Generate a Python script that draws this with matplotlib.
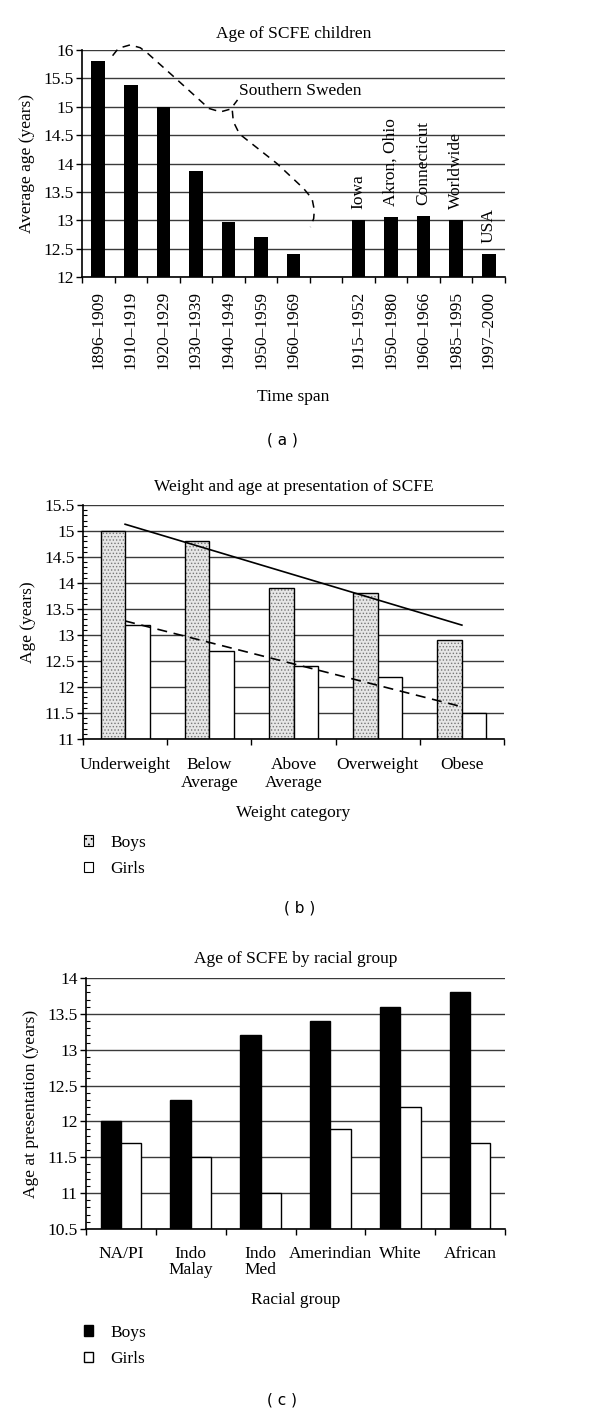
import matplotlib
matplotlib.use('Agg')
import matplotlib.pyplot as plt
import matplotlib.patches as mpatches
from matplotlib.ticker import MultipleLocator, FuncFormatter, FixedLocator
import numpy as np

# =============================================================================
# Data
# =============================================================================
# (a) Age of SCFE children
spans_a = ['1896–1909', '1910–1919', '1920–1929', '1930–1939', '1940–1949',
           '1950–1959', '1960–1969', '', '1915–1952', '1950–1980',
           '1960–1966', '1985–1995', '1997–2000']
ages_a = [15.8, 15.38, 15.0, 13.87, 12.97, 12.7, 12.4, None,
          13.0, 13.05, 13.07, 13.0, 12.4]
places_a = ['', '', '', '', '', '', '', '', 'Iowa', 'Akron, Ohio',
            'Connecticut', 'Worldwide', 'USA']
# dashed "Southern Sweden" bracket (category index, age)
sweden_top = [(0.44, 15.9), (0.62, 16.03), (0.98, 16.09), (1.29, 16.04),
              (1.52, 15.94), (2.32, 15.53), (3.40, 14.97), (3.76, 14.91),
              (4.07, 14.96), (4.28, 15.12)]
sweden_bottom = [(4.12, 14.93), (4.15, 14.74), (4.34, 14.52), (5.49, 14.0),
                 (6.31, 13.56), (6.57, 13.38), (6.64, 13.18), (6.62, 13.03),
                 (6.52, 12.88)]

# (b) Weight and age at presentation
weight_cats = ['Underweight', 'Below\nAverage', 'Above\nAverage', 'Overweight', 'Obese']
boys_b = [15.0, 14.8, 13.9, 13.8, 12.9]
girls_b = [13.2, 12.7, 12.4, 12.2, 11.5]
boys_trend = [15.13, 13.19]
girls_trend = [13.27, 11.62]

# (c) Age by racial group
race_cats = ['NA/PI', 'Indo\nMalay', 'Indo\nMed', 'Amerindian', 'White', 'African']
boys_c = [12.0, 12.3, 13.2, 13.4, 13.6, 13.8]
girls_c = [11.7, 11.5, 11.0, 11.9, 12.2, 11.7]

# =============================================================================
# Style
# =============================================================================
plt.rcParams['font.family'] = ['Liberation Serif', 'DejaVu Serif']
plt.rcParams['hatch.linewidth'] = 0.6
W, H = 600, 1416
fig = plt.figure(figsize=(W / 100, H / 100), dpi=100)
FS = 12.5
grid_c = '#3a3a3a'
fmt = FuncFormatter(lambda v, p: f'{v:g}')


def px_axes(left, top, right, bottom):
    return fig.add_axes([left / W, 1 - bottom / H, (right - left) / W, (bottom - top) / H])


def base_style(ax, ncat, ylo, yhi, minor=False):
    ax.set_xlim(-0.5, ncat - 0.5)
    ax.set_ylim(ylo, yhi)
    ax.yaxis.set_major_locator(MultipleLocator(0.5))
    ax.yaxis.set_major_formatter(fmt)
    ax.yaxis.grid(True, color=grid_c, linewidth=1.0)
    ax.set_axisbelow(True)
    for s in ['top', 'right']:
        ax.spines[s].set_visible(False)
    ax.spines['left'].set_linewidth(1.2)
    ax.spines['bottom'].set_linewidth(1.2)
    ax.tick_params(axis='y', which='major', direction='out', length=4, width=1,
                   labelsize=FS, pad=2)
    if minor:
        ax.yaxis.set_minor_locator(MultipleLocator(0.1))
        ax.tick_params(axis='y', which='minor', direction='in', length=3, width=0.8)
    ax.xaxis.set_minor_locator(FixedLocator(np.arange(-0.5, ncat, 1.0)))
    ax.tick_params(axis='x', which='minor', direction='out', length=4, width=1)
    ax.tick_params(axis='x', which='major', length=0, labelsize=FS)


def legend_at(ax, handles, labels, y_px):
    ax.legend(handles, labels, loc='upper left', bbox_to_anchor=(68 / W, 1 - y_px / H),
              bbox_transform=fig.transFigure, frameon=False, fontsize=FS,
              handlelength=0.55, handleheight=0.55, handletextpad=1.0,
              labelspacing=0.6)


# =============================================================================
# (a)
# =============================================================================
ax = px_axes(82, 50, 505, 277)
base_style(ax, len(spans_a), 12, 16)
xa = np.arange(len(spans_a))
for i, v in enumerate(ages_a):
    if v is None:
        continue
    ax.bar(i, v - 12, bottom=12, width=0.42, color='black', zorder=2)
    if places_a[i]:
        ax.annotate(places_a[i], (i, v), xytext=(0, 8), textcoords='offset points',
                    rotation=90, ha='center', va='bottom', fontsize=FS)
ax.set_xticks(xa, spans_a, rotation=90)
ax.tick_params(axis='x', which='major', pad=10)
ax.plot(*zip(*sweden_top), color='black', ls=(0, (5, 4)), lw=1.1, clip_on=False, zorder=3)
ax.plot(*zip(*sweden_bottom), color='black', ls=(0, (5, 4)), lw=1.1, clip_on=False, zorder=3)
ax.text(4.32, 15.27, 'Southern Sweden', fontsize=FS, va='center', ha='left')
ax.set_title('Age of SCFE children', fontsize=FS, pad=9)
ax.set_ylabel('Average age (years)', fontsize=FS, labelpad=6)
ax.set_xlabel('Time span', fontsize=FS, labelpad=14)
fig.text(282 / W, 1 - 440 / H, '( a )', fontsize=11, family='DejaVu Sans',
         ha='center', va='center')

# =============================================================================
# (b)
# =============================================================================
ax = px_axes(83, 505, 504, 739)
base_style(ax, len(weight_cats), 11, 15.5, minor=True)
xb = np.arange(len(weight_cats))
bw = 0.29
ax.bar(xb - bw / 2, np.array(boys_b) - 11, bottom=11, width=bw, color='#e6e6e6',
       edgecolor='#777777', hatch='.....', linewidth=0, zorder=2)
ax.bar(xb - bw / 2, np.array(boys_b) - 11, bottom=11, width=bw,
       facecolor='none', edgecolor='black', linewidth=1, zorder=2)
ax.bar(xb + bw / 2, np.array(girls_b) - 11, bottom=11, width=bw,
       color='white', edgecolor='black', linewidth=1, zorder=2)
ax.plot([xb[0], xb[-1]], boys_trend, color='black', lw=1.2, zorder=3)
ax.plot([xb[0], xb[-1]], girls_trend, color='black', lw=1.2, ls=(0, (6, 4)), zorder=3)
ax.set_xticks(xb, weight_cats)
ax.tick_params(axis='x', which='major', pad=13)
for t in ax.get_xticklabels():
    t.set_linespacing(1.2)
ax.set_title('Weight and age at presentation of SCFE', fontsize=FS, pad=10)
ax.set_ylabel('Age (years)', fontsize=FS, labelpad=6)
ax.set_xlabel('Weight category', fontsize=FS, labelpad=10)
h_boys = mpatches.Patch(facecolor='#e6e6e6', edgecolor='black', hatch='...', linewidth=0.8)
h_girls = mpatches.Patch(facecolor='white', edgecolor='black', linewidth=0.8)
legend_at(ax, [h_boys, h_girls], ['Boys', 'Girls'], 819)
fig.text(300 / W, 1 - 908 / H, '( b )', fontsize=11, family='DejaVu Sans',
         ha='center', va='center')

# =============================================================================
# (c)
# =============================================================================
ax = px_axes(86, 978, 505, 1229)
base_style(ax, len(race_cats), 10.5, 14, minor=True)
xc = np.arange(len(race_cats))
b1 = ax.bar(xc - bw / 2, np.array(boys_c) - 10.5, bottom=10.5, width=bw, color='black',
            edgecolor='black', linewidth=1, zorder=2)
b2 = ax.bar(xc + bw / 2, np.array(girls_c) - 10.5, bottom=10.5, width=bw, color='white',
            edgecolor='black', linewidth=1, zorder=2)
ax.set_xticks(xc, race_cats)
ax.tick_params(axis='x', which='major', pad=12)
for t in ax.get_xticklabels():
    t.set_linespacing(1.0)
ax.set_title('Age of SCFE by racial group', fontsize=FS, pad=11)
ax.set_ylabel('Age at presentation (years)', fontsize=FS, labelpad=6)
ax.set_xlabel('Racial group', fontsize=FS, labelpad=10)
legend_at(ax, [b1, b2], ['Boys', 'Girls'], 1309)
fig.text(282 / W, 1 - 1400 / H, '( c )', fontsize=11, family='DejaVu Sans',
         ha='center', va='center')

fig.savefig('out.png', dpi=100)
